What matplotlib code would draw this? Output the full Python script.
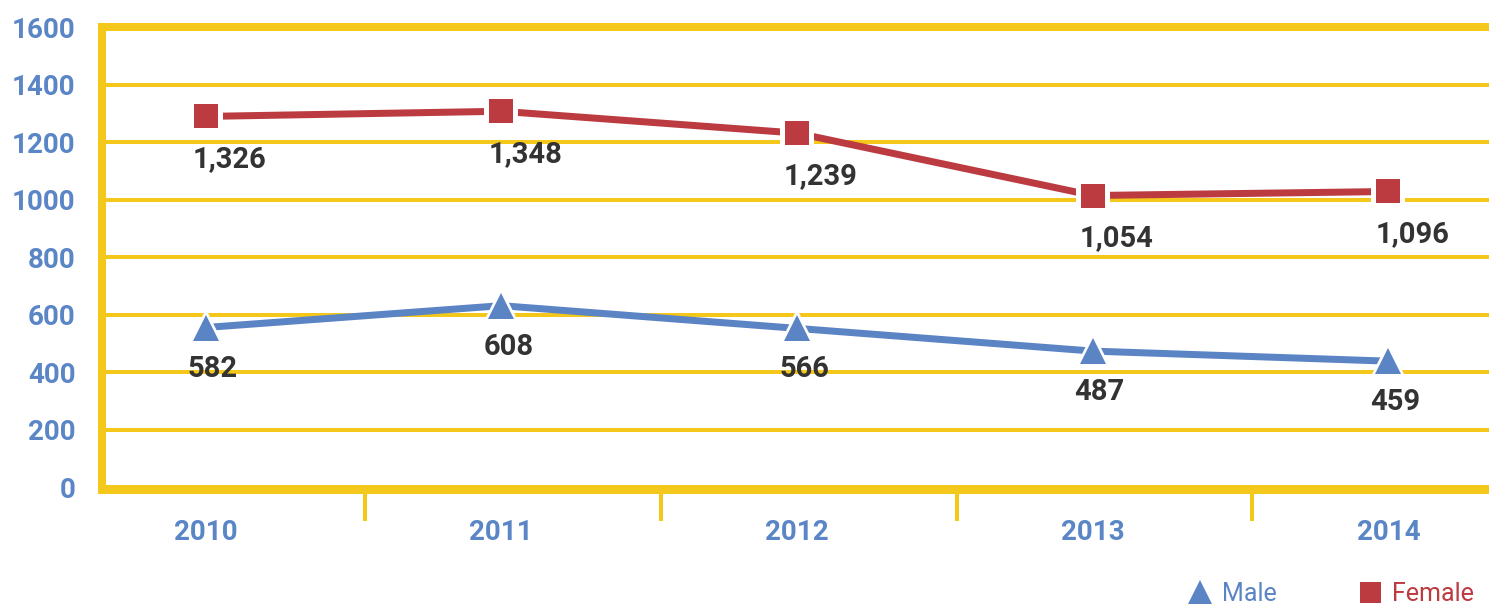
import numpy as np
import matplotlib
matplotlib.use("Agg")
import matplotlib.pyplot as plt
from matplotlib.lines import Line2D

# data
years = ["2010", "2011", "2012", "2013", "2014"]
male_labels = [582, 608, 566, 487, 459]
female_labels = [1326, 1348, 1239, 1054, 1096]
# marker heights as drawn in the original figure
male_plot = [555, 631, 552, 473, 438]
female_plot = [1289, 1307, 1231, 1014, 1028]
yticks = [0, 200, 400, 600, 800, 1000, 1200, 1400, 1600]

yellow = "#f4c81b"
blue = "#5b84c5"
red = "#bc3b40"
dark = "#333333"
tickblue = "#5a86c6"

plt.rcParams["font.family"] = ["Roboto", "DejaVu Sans"]

fig = plt.figure(figsize=(14.89, 6.07), dpi=100)
ax = fig.add_axes([102 / 1489, 1 - 490 / 607, 1 - 102 / 1489, (490 - 27) / 607])

x = np.arange(len(years))
px = 72 / 100.0  # points per pixel

# lines
ax.plot(x, female_plot, color=red, lw=7 * px, zorder=3, solid_capstyle="butt")
ax.plot(x, male_plot, color=blue, lw=7 * px, zorder=3, solid_capstyle="butt")
# white halos behind markers
ax.plot(x, female_plot, "s", color="white", ms=34 * px, mew=0, zorder=4)
ax.plot(x, male_plot, "^", color="white", ms=38 * px, mew=0, zorder=4)
ax.plot(x, female_plot, "s", color=red, ms=24 * px, mew=0, zorder=5)
ax.plot(x, male_plot, "^", color=blue, ms=27 * px, mew=0, zorder=5)

# value labels
for i in range(len(years)):
    ax.annotate(f"{female_labels[i]:,}", (x[i], female_plot[i]), xytext=(24, -43),
                textcoords="offset pixels", ha="center", va="center",
                fontsize=21, fontweight="bold", color=dark, zorder=6)
    ax.annotate(f"{male_labels[i]:,}", (x[i], male_plot[i]), xytext=(7, -41),
                textcoords="offset pixels", ha="center", va="center",
                fontsize=21, fontweight="bold", color=dark, zorder=6)

ax.set_xlim(-0.35, 4.34)
ax.set_ylim(-10, 1600)

ax.set_yticks(yticks)
ax.set_yticklabels([str(v) for v in yticks])
ax.set_xticks(x)
ax.set_xticklabels(years)
ax.set_xticks(x[:-1] + 0.54, minor=True)

ax.tick_params(axis="y", length=0, pad=19, labelsize=20, labelcolor=tickblue)
ax.tick_params(axis="x", which="major", length=0, pad=21, labelsize=20, labelcolor=tickblue)
ax.tick_params(axis="x", which="minor", length=31 * px, width=4 * px, color=yellow, direction="out")
for lab in ax.get_xticklabels() + ax.get_yticklabels():
    lab.set_fontweight("bold")

ax.grid(axis="y", color=yellow, lw=4 * px, zorder=1)
ax.set_axisbelow(True)

for side in ["left", "bottom", "top"]:
    ax.spines[side].set_color(yellow)
    ax.spines[side].set_linewidth(8 * px)
ax.spines["right"].set_visible(False)

# legend
handles = [Line2D([], [], ls="none", marker="^", color=blue, ms=24 * px, mew=0),
           Line2D([], [], ls="none", marker="s", color=red, ms=21 * px, mew=0)]
leg = fig.legend(handles, ["Male", "Female"], loc="center right",
                 bbox_to_anchor=(1.0, 1 - 594 / 607), ncol=2, frameon=False,
                 fontsize=18, handlelength=1.0, handletextpad=0.4,
                 columnspacing=3.2, borderaxespad=0.2)
leg.get_texts()[0].set_color(blue)
leg.get_texts()[1].set_color(red)

fig.savefig("out.png", dpi=100)
